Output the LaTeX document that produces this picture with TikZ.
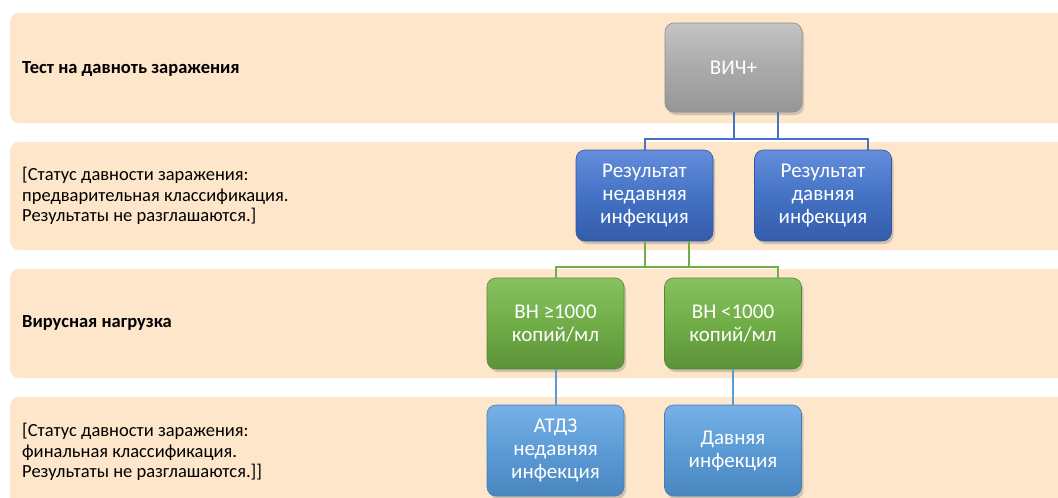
\documentclass[tikz,border=0pt]{standalone}
\usepackage{fontspec}
\setmainfont{Carlito}
\usetikzlibrary{shadows,calc}
\definecolor{band}{RGB}{253,230,202}
\definecolor{lineblue}{RGB}{68,114,196}
\definecolor{linegreen}{RGB}{112,173,71}
\definecolor{linelb}{RGB}{91,155,213}
\tikzset{
  bandfill/.style={fill=band, rounded corners=9pt},
  lbl/.style={anchor=west, inner sep=0pt, align=left, font=\fontsize{18.5}{20.5}\selectfont, text=black},
  boxbase/.style={rectangle, rounded corners=9pt, minimum width=137pt, minimum height=91pt,
     inner sep=2pt, align=center, text=white, font=\fontsize{21}{23}\selectfont,
     drop shadow={opacity=0.35, shadow xshift=2pt, shadow yshift=-3pt}},
  graybox/.style={boxbase, top color={rgb,255:red,196;green,196;blue,196}, bottom color={rgb,255:red,150;green,150;blue,150}, middle color={rgb,255:red,170;green,170;blue,170}, draw={rgb,255:red,140;green,140;blue,140}, line width=0.6pt},
  bluebox/.style={boxbase, top color={rgb,255:red,100;green,142;blue,220}, bottom color={rgb,255:red,52;green,92;blue,170}, middle color={rgb,255:red,68;green,114;blue,196}, draw={rgb,255:red,50;green,85;blue,160}, line width=0.6pt},
  greenbox/.style={boxbase, top color={rgb,255:red,136;green,194;blue,96}, bottom color={rgb,255:red,92;green,146;blue,56}, middle color={rgb,255:red,112;green,173;blue,71}, draw={rgb,255:red,85;green,135;blue,52}, line width=0.6pt},
  lbbox/.style={boxbase, top color={rgb,255:red,118;green,176;blue,230}, bottom color={rgb,255:red,74;green,134;blue,192}, middle color={rgb,255:red,91;green,155;blue,213}, draw={rgb,255:red,70;green,125;blue,180}, line width=0.6pt},
  bcon/.style={draw=lineblue, line width=2pt},
  gcon/.style={draw=linegreen, line width=2pt},
  lcon/.style={draw=linelb, line width=2pt}
}
\begin{document}
\begin{tikzpicture}[x=1pt, y=-1pt]
\useasboundingbox (0,0) rectangle (1058,498);
\fill[white] (0,0) rectangle (1058,498);
\begin{scope}
\clip (0,0) rectangle (1058,498);
\fill[bandfill] (10,13) rectangle (1080,123);
\fill[bandfill] (10,142) rectangle (1080,250);
\fill[bandfill] (10,269) rectangle (1080,378);
\fill[bandfill] (10,397) rectangle (1080,520);
\end{scope}

\node[lbl, font=\fontsize{18.5}{20.5}\selectfont\bfseries] (l1) at (22,69) {Тест на давноть заражения};
\node[lbl] (l2) at (22,196) {[Статус давности заражения:\\предварительная классификация.\\Результаты не разглашаются.]};
\node[lbl, font=\fontsize{18.5}{20.5}\selectfont\bfseries] (l3) at (22,323) {Вирусная нагрузка};
\node[lbl] (l4) at (22,452) {[Статус давности заражения:\\финальная классификация.\\Результаты не разглашаются.]]};

\coordinate (bus1) at (0,139);
\coordinate (bus2) at (0,267);

\node[graybox, minimum height=89pt] (hiv) at (733.5,67.5) {ВИЧ+};
\node[bluebox] (r1) at (644.5,195.5) {Результат\\недавняя\\инфекция};
\node[bluebox] (r2) at (823,195.5) {Результат\\давняя\\инфекция};
\node[greenbox] (v1) at (555.5,323.5) {ВН ≥1000\\копий/мл};
\node[greenbox] (v2) at (733,323.5) {ВН <1000\\копий/мл};
\node[lbbox] (f1) at (555.5,450.5) {АТДЗ\\недавняя\\инфекция};
\node[lbbox] (f2) at (733,450.5) {Давняя\\инфекция};

\coordinate (hivA) at (hiv.south);
\coordinate (hivB) at ([xshift=44.5pt]hiv.south);
\coordinate (r2n) at ([xshift=45pt]r2.north);
\coordinate (r1A) at (r1.south);
\coordinate (r1B) at ([xshift=44.5pt]r1.south);
\coordinate (v2n) at ([xshift=45pt]v2.north);

\draw[bcon] (hivA) -- (hivA |- bus1);
\draw[bcon] (hivB) -- (hivB |- bus1);
\draw[bcon] (r1.north) |- (bus1 -| r2n) -- (r2n);

\draw[gcon] (r1A) -- (r1A |- bus2);
\draw[gcon] (r1B) -- (r1B |- bus2);
\draw[gcon] (v1.north) |- (bus2 -| v2n) -- (v2n);

\draw[lcon] (v1.south) -- (f1.north);
\draw[lcon] (v2.south) -- (f2.north);
\end{tikzpicture}
\end{document}
